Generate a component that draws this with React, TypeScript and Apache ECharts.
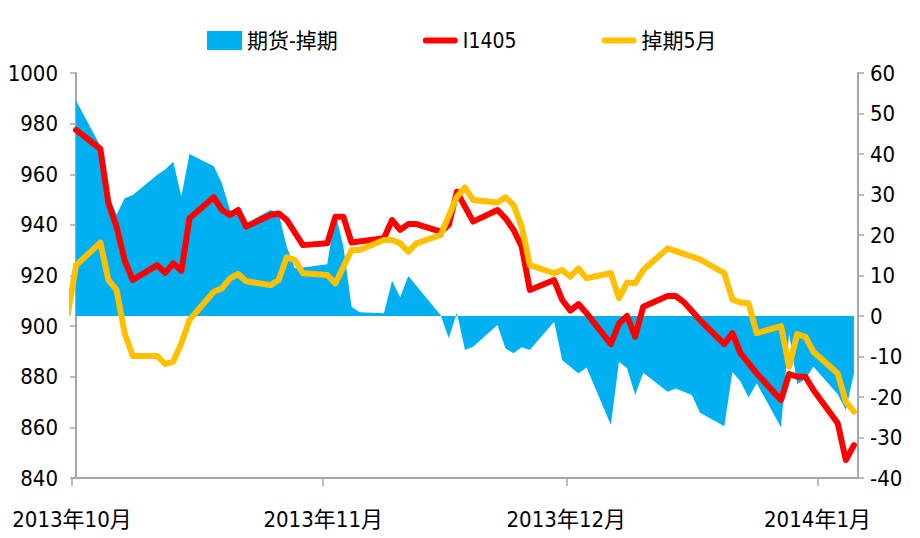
import React, { useEffect, useRef } from "react";
import * as echarts from "echarts";

// ---- Data ----
const tickDates = ["2013-10-04", "2013-11-04", "2013-12-04", "2014-01-04"];
const tickLabels = ["2013年10月", "2013年11月", "2013年12月", "2014年1月"];

const seriesNames = ["期货-掉期", "I1405", "掉期5月"];

// 期货-掉期 (right axis)
const spreadDates = [
  "2013-10-04", "2013-10-07", "2013-10-08", "2013-10-09", "2013-10-10", "2013-10-11",
  "2013-10-14", "2013-10-15", "2013-10-16", "2013-10-17", "2013-10-18",
  "2013-10-21", "2013-10-22", "2013-10-23", "2013-10-24", "2013-10-25",
  "2013-10-28", "2013-10-29", "2013-10-30", "2013-10-31", "2013-11-01",
  "2013-11-04", "2013-11-05", "2013-11-06", "2013-11-07", "2013-11-08",
  "2013-11-11", "2013-11-12", "2013-11-13", "2013-11-14", "2013-11-15",
  "2013-11-18", "2013-11-19", "2013-11-20", "2013-11-21", "2013-11-22",
  "2013-11-25", "2013-11-26", "2013-11-27", "2013-11-28", "2013-11-29",
  "2013-12-02", "2013-12-03", "2013-12-04", "2013-12-05", "2013-12-06",
  "2013-12-09", "2013-12-10", "2013-12-11", "2013-12-12", "2013-12-13",
  "2013-12-16", "2013-12-17", "2013-12-19", "2013-12-20",
  "2013-12-23", "2013-12-24", "2013-12-25", "2013-12-26", "2013-12-27",
  "2013-12-30", "2013-12-31", "2014-01-01", "2014-01-02", "2014-01-03",
  "2014-01-06", "2014-01-07", "2014-01-08",
];
const spreadValues = [
  53.2, 42, 30, 25, 29.1, 29.9,
  34.8, 36.2, 38.1, 29.5, 40,
  37, 32.8, 26.2, 25.5, 22.9,
  26.2, 25.4, 17.1, 11.8, 12,
  12.8, 25.4, 17.1, 2.3, 0.9,
  0.7, 8.7, 4.6, 9.9, 7.5,
  0.2, -5.5, 0.8, -8.4, -7.6,
  -2.2, -8, -9.2, -7.7, -8.4,
  -1.4, -10.9, -12.5, -14.2, -12.7,
  -26.9, -11.3, -12.9, -19.5, -14,
  -18.7, -17.9, -19.5, -23.9,
  -27.2, -13.8, -16.2, -20.1, -16.6,
  -27.5, -4.3, -16.8, -15.6, -12.5,
  -19.3, -23.2, -14.2,
];

// I1405 (left axis)
const futDates = [
  "2013-10-04", "2013-10-07", "2013-10-08", "2013-10-09", "2013-10-10", "2013-10-11",
  "2013-10-14", "2013-10-15", "2013-10-16", "2013-10-17", "2013-10-18",
  "2013-10-21", "2013-10-22", "2013-10-23", "2013-10-24", "2013-10-25",
  "2013-10-28", "2013-10-29", "2013-10-30", "2013-11-01",
  "2013-11-04", "2013-11-05", "2013-11-06", "2013-11-07",
  "2013-11-11", "2013-11-12", "2013-11-13", "2013-11-14", "2013-11-15",
  "2013-11-18", "2013-11-19", "2013-11-20", "2013-11-22",
  "2013-11-25", "2013-11-26", "2013-11-27", "2013-11-28", "2013-11-29",
  "2013-12-02", "2013-12-03", "2013-12-04", "2013-12-05", "2013-12-06",
  "2013-12-09", "2013-12-10", "2013-12-11", "2013-12-12", "2013-12-13",
  "2013-12-16", "2013-12-17", "2013-12-18", "2013-12-19", "2013-12-20",
  "2013-12-23", "2013-12-24", "2013-12-25", "2013-12-27",
  "2013-12-30", "2013-12-31", "2014-01-01", "2014-01-02", "2014-01-03",
  "2014-01-06", "2014-01-07", "2014-01-08",
];
const futValues = [
  977.5, 970, 948.5, 939.3, 926, 918.2,
  924.1, 921.1, 924.8, 921.9, 942.6,
  950.9, 945.9, 943.9, 945.9, 939.3,
  943.9, 944.5, 942, 932,
  932.7, 943.2, 943.2, 933,
  934.7, 941.9, 938, 940.3, 940.3,
  937.3, 940, 953.1, 941.3,
  945.9, 942.6, 938, 931.4, 914.3,
  918.2, 910.3, 906.1, 908.7, 905.1,
  892.9, 901, 904, 895.8, 907.7,
  911.9, 911.9, 909.5, 906, 902.4,
  892.9, 897.2, 889.3, 881.3,
  870.8, 881.1, 880, 880, 874.8,
  861.6, 847.1, 853,
];

// 掉期5月 (left axis)
const swapDates = [
  "2013-10-03", "2013-10-04", "2013-10-07", "2013-10-08", "2013-10-09", "2013-10-10", "2013-10-11",
  "2013-10-14", "2013-10-15", "2013-10-16", "2013-10-17", "2013-10-18",
  "2013-10-21", "2013-10-22", "2013-10-23", "2013-10-24", "2013-10-25",
  "2013-10-28", "2013-10-29", "2013-10-30", "2013-10-31", "2013-11-01",
  "2013-11-04", "2013-11-05", "2013-11-07", "2013-11-08",
  "2013-11-11", "2013-11-12", "2013-11-13", "2013-11-14", "2013-11-15",
  "2013-11-18", "2013-11-20", "2013-11-21", "2013-11-22",
  "2013-11-25", "2013-11-26", "2013-11-27", "2013-11-28", "2013-11-29",
  "2013-12-02", "2013-12-03", "2013-12-04", "2013-12-05", "2013-12-06",
  "2013-12-09", "2013-12-10", "2013-12-11", "2013-12-12", "2013-12-13",
  "2013-12-16", "2013-12-20",
  "2013-12-23", "2013-12-24", "2013-12-25", "2013-12-26", "2013-12-27",
  "2013-12-30", "2013-12-31", "2014-01-01", "2014-01-02", "2014-01-03",
  "2014-01-06", "2014-01-07", "2014-01-08",
];
const swapValues = [
  905, 924, 933, 918.2, 914.3, 897.2, 888.2,
  888.2, 885, 886, 893.2, 902.4,
  913.6, 914.9, 918.9, 920.6, 917.7,
  916.2, 918.2, 927.2, 926.1, 920.9,
  920.2, 916.9, 930.1, 930.1,
  934, 934, 932.7, 929.4, 932.7,
  936, 951.1, 954.8, 949.8,
  948.8, 950.9, 947.8, 939.3, 924.1,
  920.9, 922.2, 919.5, 922.8, 918.9,
  921, 911, 917.2, 916.9, 922.2,
  930.7, 926.4,
  920.9, 910.5, 909.3, 909, 897.2,
  900, 884, 896.9, 895.8, 889.9,
  881.3, 870.2, 866.2,
];

const leftTicks = { min: 840, max: 1000, interval: 20 };
const rightTicks = { min: -40, max: 60, interval: 10 };

// ---- helpers ----
const BASE = Date.UTC(2013, 9, 4);
const dayOf = (s: string) => {
  const [y, m, d] = s.split("-").map(Number);
  return (Date.UTC(y, m - 1, d) - BASE) / 86400000;
};
const pairs = (dates: string[], vals: number[]) => dates.map((d, i) => [dayOf(d), vals[i]]);

const FONT = "'Liberation Sans Narrow', 'DejaVu Sans Condensed', 'Noto Sans CJK SC', sans-serif";
const AXIS_COLOR = "#A6A6A6";
const BLUE = "#00B0F0";
const RED = "#FF0000";
const YELLOW = "#FFC000";
const LINE_ICON = "path://M3,0 L32,0 A3,3 0 0 1 32,6 L3,6 A3,3 0 0 1 3,0 Z";

export default function App() {
  const ref = useRef<HTMLDivElement>(null);

  useEffect(() => {
    if (!ref.current) return;
    const chart = echarts.init(ref.current, undefined, { renderer: "svg" });
    const tickPos = tickDates.map((d) => dayOf(d) - 0.5);
    const lastDay = dayOf(futDates[futDates.length - 1]);

    chart.setOption({
      animation: false,
      backgroundColor: "#ffffff",
      grid: { left: 72, right: 62, top: 73, bottom: 60, containLabel: false },
      legend: {
        left: 202,
        top: 25,
        itemWidth: 35,
        itemHeight: 19,
        itemGap: 85,
        textStyle: { fontSize: 21, fontFamily: FONT, color: "#000" },
        data: [
          { name: seriesNames[0], icon: "rect" },
          { name: seriesNames[1], icon: LINE_ICON },
          { name: seriesNames[2], icon: LINE_ICON },
        ],
      },
      xAxis: {
        type: "value",
        min: -0.5,
        max: lastDay + 0.5,
        axisLine: { show: true, onZero: false, lineStyle: { color: AXIS_COLOR, width: 2 } },
        axisTick: {
          show: true,
          customValues: tickPos,
          length: 8,
          lineStyle: { color: AXIS_COLOR, width: 1.5 },
        },
        axisLabel: {
          customValues: tickPos,
          margin: 30,
          fontSize: 22,
          fontFamily: FONT,
          color: "#000",
          formatter: (v: number) => {
            const i = tickPos.findIndex((p) => Math.abs(p - v) < 0.01);
            return i >= 0 ? tickLabels[i] : "";
          },
        },
        splitLine: { show: false },
      },
      yAxis: [
        {
          type: "value",
          position: "left",
          ...leftTicks,
          axisLine: { show: true, lineStyle: { color: AXIS_COLOR, width: 2 } },
          axisTick: { show: true, length: 6, lineStyle: { color: AXIS_COLOR, width: 1.5 } },
          axisLabel: {
            margin: 14,
            fontSize: 22,
            fontFamily: FONT,
            color: "#000",
            formatter: (v: number) => String(v),
          },
          splitLine: { show: false },
        },
        {
          type: "value",
          position: "right",
          ...rightTicks,
          axisLine: { show: true, lineStyle: { color: AXIS_COLOR, width: 2 } },
          axisTick: { show: true, length: 6, lineStyle: { color: AXIS_COLOR, width: 1.5 } },
          axisLabel: {
            margin: 12,
            fontSize: 22,
            fontFamily: FONT,
            color: "#000",
            formatter: (v: number) => String(v),
          },
          splitLine: { show: false },
        },
      ],
      series: [
        {
          name: seriesNames[0],
          type: "line",
          yAxisIndex: 1,
          data: pairs(spreadDates, spreadValues),
          showSymbol: false,
          symbol: "none",
          lineStyle: { width: 0, color: BLUE },
          itemStyle: { color: BLUE },
          areaStyle: { color: BLUE, opacity: 1 },
          z: 1,
        },
        {
          name: seriesNames[1],
          type: "line",
          yAxisIndex: 0,
          data: pairs(futDates, futValues),
          showSymbol: false,
          symbol: "none",
          lineStyle: { width: 6, color: RED, cap: "round", join: "round" },
          itemStyle: { color: RED },
          z: 2,
        },
        {
          name: seriesNames[2],
          type: "line",
          yAxisIndex: 0,
          data: pairs(swapDates, swapValues),
          showSymbol: false,
          symbol: "none",
          lineStyle: { width: 6, color: YELLOW, cap: "round", join: "round" },
          itemStyle: { color: YELLOW },
          z: 3,
        },
      ],
    });

    return () => chart.dispose();
  }, []);

  return (
    <div
      ref={ref}
      style={{ position: "fixed", left: 0, top: 0, width: 920, height: 538, background: "#fff" }}
    />
  );
}
